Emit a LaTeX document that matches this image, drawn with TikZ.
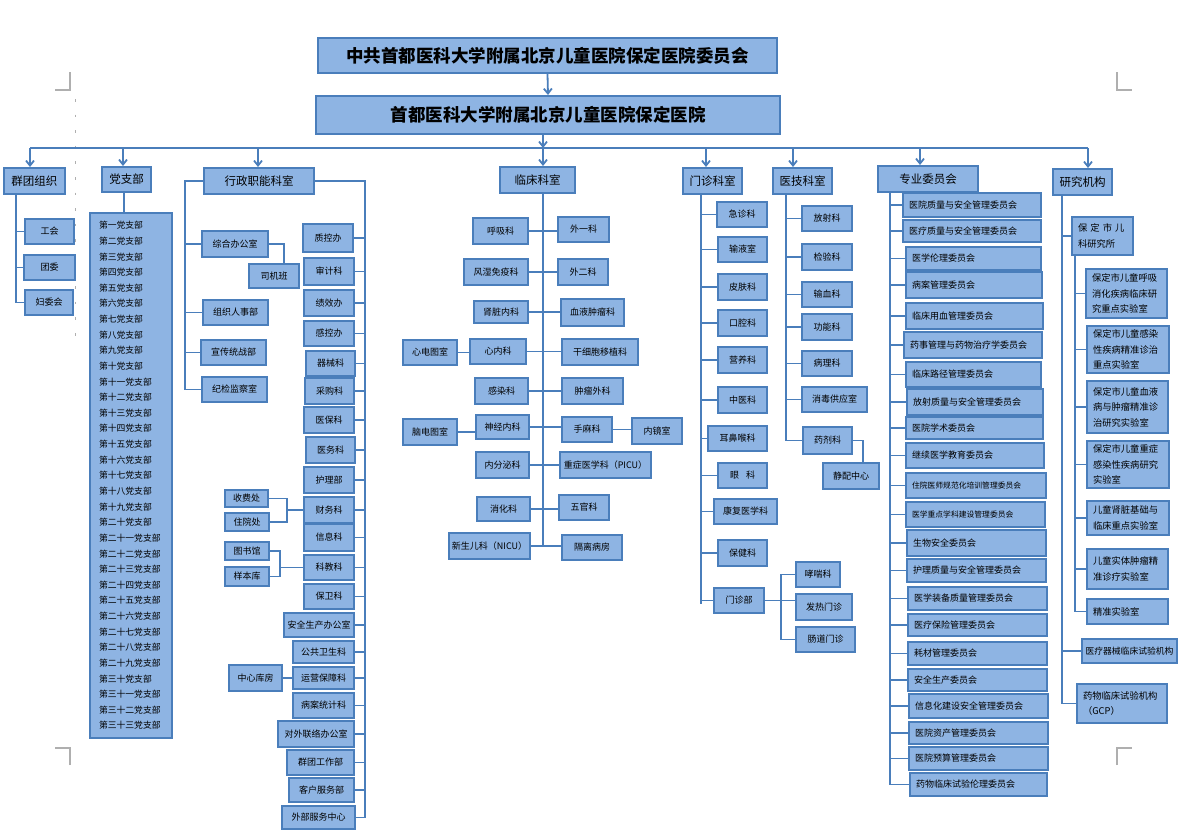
\documentclass[tikz,border=0pt]{standalone}
\usepackage{fontspec}
\setmainfont{Noto Sans CJK SC}
\usetikzlibrary{arrows.meta}
\definecolor{fl}{RGB}{142,180,227}
\definecolor{bd}{RGB}{74,126,187}
\definecolor{cm}{RGB}{175,175,175}
\newcommand\bx[7][]{\node[box,#1,minimum width={(#5-#3)*1pt},minimum height={(#6-#4)*1pt}] (#2) at ({(#3+#5)/2},{(#4+#6)/2}) {#7};}
\newcommand\lbx[7][]{\node[box,#1,align=left,inner xsep=6pt,text width={(#5-#3-12)*1pt},minimum height={(#6-#4)*1pt}] (#2) at ({(#3+#5)/2},{(#4+#6)/2}) {#7};}
\begin{document}
\begin{tikzpicture}[x=1pt,y=-1pt,
  box/.style={draw=bd, fill=fl, line width=2pt, inner sep=1pt, text=black, font=\fontsize{9}{10.5}\selectfont},
  hd/.style={font=\fontsize{11.5}{13}\selectfont},
  ttl/.style={font=\bfseries\fontsize{17.5}{20}\selectfont},
  sm/.style={font=\fontsize{7.8}{9}\selectfont},
  rs/.style={font=\fontsize{9.3}{15.5}\selectfont},
  ln/.style={draw=bd, line width=1.8pt},
  arr/.style={ln, -{Straight Barb[length=5pt,width=8pt]}},
  crop/.style={draw=cm, line width=1.2pt}]
\useasboundingbox (0,0) rectangle (1186,838);
\fill[white] (0,0) rectangle (1186,838);

% crop marks
\draw[crop] (70,72) -- (70,90) -- (55,90);
\draw[crop] (1117,72) -- (1117,90) -- (1132,90);
\draw[crop] (70,765) -- (70,748) -- (55,748);
\draw[crop] (1117,765) -- (1117,748) -- (1132,748);
\foreach \yy in {99,114.6,...,335} \draw[draw=cm, line width=1pt] (75,\yy) -- (75,\yy+2.5);

% titles
\bx[ttl]{t1}{318}{38}{777}{73}{中共首都医科大学附属北京儿童医院保定医院委员会}
\bx[ttl]{t2}{316}{96}{780}{134}{首都医科大学附属北京儿童医院保定医院}
\draw[arr] (t1.south) -- (t2.north);

% headers
\bx[hd]{qt}{4}{168}{65}{194}{群团组织}
\bx[hd]{dz}{102}{167}{151}{192}{党支部}
\bx[hd]{xz}{204}{168}{314}{194}{行政职能科室}
\bx[hd]{lc}{500}{167}{575}{193}{临床科室}
\bx[hd]{mz}{683}{168}{742}{194}{门诊科室}
\bx[hd]{yj}{773}{168}{832}{194}{医技科室}
\bx[hd]{zw}{878}{166}{978}{192}{专业委员会}
\bx[hd]{yjj}{1053}{169}{1112}{195}{研究机构}

% bus
\coordinate (busL) at (30,148);
\coordinate (busR) at (1088,148);
\coordinate (lcT) at (543,0);
\draw[ln] (busL) -- (busR);
\draw[arr] (t2.south -| lcT) -- (lcT |- busL);
\coordinate (d1) at (30,148);
\coordinate (d2) at (123,148);
\coordinate (d3) at (258,148);
\coordinate (d4) at (543,148);
\coordinate (d5) at (706,148);
\coordinate (d6) at (793,148);
\coordinate (d7) at (920,148);
\coordinate (d8) at (1088,148);
\draw[arr] (d1) -- (d1 |- qt.north);
\draw[arr] (d2) -- (d2 |- dz.north);
\draw[arr] (d3) -- (d3 |- xz.north);
\draw[arr] (d4) -- (d4 |- lc.north);
\draw[arr] (d5) -- (d5 |- mz.north);
\draw[arr] (d6) -- (d6 |- yj.north);
\draw[arr] (d7) -- (d7 |- zw.north);
\draw[arr] (d8) -- (d8 |- yjj.north);

% group organisations
\bx{gh}{25}{219}{74}{244}{工会}
\bx{tw}{24}{255}{75}{280}{团委}
\bx{fw}{25}{290}{73}{315}{妇委会}
\coordinate (qtT) at (16,0);
\draw[ln] (qt.south -| qtT) |- (fw.west);
\draw[ln] (qtT |- gh.west) -- (gh.west);
\draw[ln] (qtT |- tw.west) -- (tw.west);

% party branches
\node[box, text width=64pt, inner xsep=9pt, align=left, minimum height=525pt, font=\fontsize{8.8}{15.63}\selectfont] (dl) at (131,475.5)
{第一党支部\\第二党支部\\第三党支部\\第四党支部\\第五党支部\\第六党支部\\第七党支部\\第八党支部\\第九党支部\\第十党支部\\第十一党支部\\第十二党支部\\第十三党支部\\第十四党支部\\第十五党支部\\第十六党支部\\第十七党支部\\第十八党支部\\第十九党支部\\第二十党支部\\第二十一党支部\\第二十二党支部\\第二十三党支部\\第二十四党支部\\第二十五党支部\\第二十六党支部\\第二十七党支部\\第二十八党支部\\第二十九党支部\\第三十党支部\\第三十一党支部\\第三十二党支部\\第三十三党支部};
\coordinate (dzT) at (124,0);
\draw[ln] (dz.south -| dzT) -- (dl.north -| dzT);

% administration - left
\bx{zh}{202}{231}{268}{257}{综合办公室}
\bx{sj}{249}{264}{299}{288}{司机班}
\bx{zz}{203}{300}{268}{325}{组织人事部}
\bx{xc}{201}{340}{266}{365}{宣传统战部}
\bx{jj}{202}{377}{267}{402}{纪检监察室}
\coordinate (xzL) at (185,0);
\draw[ln] (xz.west) -| (xzL |- jj.west) -- (jj.west);
\foreach \n in {zh,zz,xc} \draw[ln] (xzL |- \n.west) -- (\n.west);
\coordinate (sjT) at (284,0);
\draw[ln] (zh.east) -| (sjT |- sj.north);

% administration - right
\bx{zk}{303}{224}{353}{252}{质控办}
\bx{sjk}{304}{258}{354}{285}{审计科}
\bx{jx}{304}{290}{354}{316}{绩效办}
\bx{gk}{304}{321}{354}{346}{感控办}
\bx{qx}{306}{351}{355}{376}{器械科}
\bx{cg}{305}{378}{354}{404}{采购科}
\bx{yb}{304}{407}{354}{433}{医保科}
\bx{yw}{306}{437}{355}{463}{医务科}
\bx{hl}{304}{467}{354}{493}{护理部}
\bx{cw}{304}{497}{354}{523}{财务科}
\bx{xx}{304}{524}{354}{551}{信息科}
\bx{kj}{304}{555}{354}{580}{科教科}
\bx{bw}{304}{584}{354}{609}{保卫科}
\bx{aq}{284}{613}{354}{637}{安全生产办公室}
\bx{gw}{293}{641}{354}{663}{公共卫生科}
\bx{yy}{293}{667}{354}{689}{运营保障科}
\bx{ba}{293}{693}{354}{718}{病案统计科}
\bx{dw}{278}{721}{354}{747}{对外联络办公室}
\bx{qg}{287}{750}{354}{775}{群团工作部}
\bx{kf}{289}{778}{354}{802}{客户服务部}
\bx{wb}{282}{806}{355}{829}{外部服务中心}
\coordinate (xzR) at (365,0);
\draw[ln] (xz.east) -| (xzR |- wb.east) -- (wb.east);
\foreach \n in {zk,sjk,jx,gk,qx,cg,yb,yw,hl,cw,xx,kj,bw,aq,gw,yy,ba,dw,qg,kf}
  \draw[ln] (xzR |- \n.east) -- (\n.east);
\bx{sf}{225}{490}{268}{507}{收费处}
\bx{zy}{225}{513}{269}{531}{住院处}
\coordinate (cwB) at (287,0);
\draw[ln] (sf.east) -| (cwB |- zy.east) -- (zy.east);
\draw[ln] (cwB |- cw.west) -- (cw.west);
\bx{ts}{225}{542}{269}{560}{图书馆}
\bx{bk}{225}{567}{269}{586}{样本库}
\coordinate (kjB) at (280,0);
\draw[ln] (ts.east) -| (kjB |- bk.east) -- (bk.east);
\draw[ln] (kjB |- kj.west) -- (kj.west);
\bx{zx}{229}{665}{282}{691}{中心库房}
\draw[ln] (zx.east) -- (zx.east -| yy.west);

% clinical
\bx{hx}{473}{218}{528}{244}{呼吸科}
\bx{wy}{558}{217}{609}{242}{外一科}
\bx{fs}{464}{259}{528}{285}{风湿免疫科}
\bx{we}{558}{259}{608}{285}{外二科}
\bx{sz}{474}{301}{528}{323}{肾脏内科}
\bx{xy}{561}{299}{624}{326}{血液肿瘤科}
\bx{xd}{403}{340}{457}{365}{心电图室}
\bx{xn}{470}{339}{526}{364}{心内科}
\bx{gx}{562}{339}{638}{365}{干细胞移植科}
\bx{gr}{475}{378}{528}{404}{感染科}
\bx{zwk}{562}{378}{623}{404}{肿瘤外科}
\bx{nd}{403}{419}{457}{445}{脑电图室}
\bx{sn}{476}{415}{529}{439}{神经内科}
\bx{smk}{562}{417}{612}{442}{手麻科}
\bx{nj}{632}{418}{682}{444}{内镜室}
\bx{nf}{476}{452}{529}{478}{内分泌科}
\bx{pi}{560}{452}{651}{478}{重症医学科（PICU）}
\bx{xh}{477}{497}{530}{521}{消化科}
\bx{wg}{559}{495}{609}{520}{五官科}
\bx{xs}{449}{533}{530}{559}{新生儿科（NICU）}
\bx{gl}{562}{535}{622}{560}{隔离病房}
\draw[ln] (lc.south -| lcT) -- (lcT |- xs.east);
\draw[ln] (hx.east) -- (hx.east -| wy.west);
\draw[ln] (fs.east) -- (fs.east -| we.west);
\draw[ln] (sz.east) -- (sz.east -| xy.west);
\draw[ln] (xn.east) -- (xn.east -| gx.west);
\draw[ln] (gr.east) -- (gr.east -| zwk.west);
\draw[ln] (sn.east) -- (sn.east -| smk.west);
\draw[ln] (nf.east) -- (nf.east -| pi.west);
\draw[ln] (xh.east) -- (xh.east -| wg.west);
\draw[ln] (xs.east) -- (xs.east -| gl.west);
\draw[ln] (xd.east) -- (xd.east -| xn.west);
\draw[ln] (nd.east) -- (nd.east -| sn.west);
\draw[ln] (smk.east) -- (smk.east -| nj.west);

% outpatient
\bx{jz}{717}{202}{767}{227}{急诊科}
\bx{sy}{718}{237}{767}{262}{输液室}
\bx{pf}{718}{274}{767}{300}{皮肤科}
\bx{kq}{718}{310}{767}{336}{口腔科}
\bx{yyk}{718}{347}{767}{373}{营养科}
\bx{zyk}{718}{387}{767}{413}{中医科}
\bx{eb}{708}{426}{767}{451}{耳鼻喉科}
\bx{yk}{718}{463}{767}{488}{眼\hspace{7pt}科}
\bx{kfk}{714}{499}{777}{524}{康复医学科}
\bx{bj}{718}{540}{767}{566}{保健科}
\bx{mzb}{714}{588}{764}{613}{门诊部}
\coordinate (mzT) at (701,0);
\draw[ln] (mz.south -| mzT) -- ([yshift=-3pt]mzT |- mzb.west);
\foreach \n in {jz,sy,pf,kq,yyk,zyk,eb,yk,kfk,bj,mzb} \draw[ln] (mzT |- \n.west) -- (\n.west);
\bx{xck}{796}{562}{840}{587}{哮喘科}
\bx{fr}{796}{594}{852}{620}{发热门诊}
\bx{cd}{796}{627}{855}{652}{肠道门诊}
\coordinate (mzbB) at (781,0);
\draw[ln] (xck.west) -| (mzbB |- cd.west) -- (cd.west);
\draw[ln] (mzb.east) -- (mzb.east -| fr.west);

% medical technology
\bx{fsk}{802}{206}{852}{231}{放射科}
\bx{jy}{802}{244}{852}{270}{检验科}
\bx{sx}{802}{282}{852}{307}{输血科}
\bx{gn}{802}{314}{852}{340}{功能科}
\bx{bl}{802}{351}{852}{376}{病理科}
\bx{xdg}{802}{387}{867}{412}{消毒供应室}
\bx{yjk}{803}{427}{852}{454}{药剂科}
\bx{jp}{823}{463}{879}{489}{静配中心}
\coordinate (yjT) at (786,0);
\draw[ln] (yj.south -| yjT) -- (yjT |- yjk.west);
\foreach \n in {fsk,jy,sx,gn,bl,xdg,yjk} \draw[ln] (yjT |- \n.west) -- (\n.west);
\coordinate (jpT) at (863,0);
\draw[ln] (yjk.east) -| (jpT |- jp.north);

% committees
\lbx{c1}{903}{193}{1041}{217}{医院质量与安全管理委员会}
\lbx{c2}{903}{220}{1041}{242}{医疗质量与安全管理委员会}
\lbx{c3}{906}{247}{1041}{270}{医学伦理委员会}
\lbx{c4}{906}{272}{1042}{298}{病案管理委员会}
\lbx{c5}{906}{303}{1043}{329}{临床用血管理委员会}
\lbx{c6}{904}{332}{1042}{358}{药事管理与药物治疗学委员会}
\lbx{c7}{906}{362}{1041}{387}{临床路径管理委员会}
\lbx{c8}{907}{389}{1043}{415}{放射质量与安全管理委员会}
\lbx{c9}{906}{417}{1043}{439}{医院学术委员会}
\lbx{c10}{906}{443}{1044}{468}{继续医学教育委员会}
\lbx[sm]{c11}{906}{473}{1046}{498}{住院医师规范化培训管理委员会}
\lbx[sm]{c12}{906}{502}{1045}{527}{医学重点学科建设管理委员会}
\lbx{c13}{907}{530}{1046}{556}{生物安全委员会}
\lbx{c14}{907}{559}{1046}{582}{护理质量与安全管理委员会}
\lbx{c15}{908}{587}{1047}{610}{医学装备质量管理委员会}
\lbx{c16}{908}{614}{1047}{636}{医疗保险管理委员会}
\lbx{c17}{908}{642}{1047}{665}{耗材管理委员会}
\lbx{c18}{908}{669}{1047}{691}{安全生产委员会}
\lbx{c19}{909}{694}{1048}{718}{信息化建设安全管理委员会}
\lbx{c20}{909}{722}{1048}{744}{医院资产管理委员会}
\lbx{c21}{909}{747}{1048}{770}{医院预算管理委员会}
\lbx{c22}{910}{773}{1047}{796}{药物临床试验伦理委员会}
\coordinate (zwT) at (890,0);
\draw[ln] (zw.south -| zwT) -- (zwT |- c22.west);
\foreach \i in {1,...,22} \draw[ln] (zwT |- c\i.west) -- (c\i.west);

% research
\lbx[rs]{r0}{1072}{217}{1133}{255}{保 定 市 儿\\科研究所}
\lbx[rs]{r1}{1086}{269}{1167}{318}{保定市儿童呼吸\\消化疾病临床研\\究重点实验室}
\lbx[rs]{r2}{1087}{326}{1169}{373}{保定市儿童感染\\性疾病精准诊治\\重点实验室}
\lbx[rs]{r3}{1087}{381}{1168}{433}{保定市儿童血液\\病与肿瘤精准诊\\治研究实验室}
\lbx[rs]{r4}{1087}{441}{1169}{488}{保定市儿童重症\\感染性疾病研究\\实验室}
\lbx[rs]{r5}{1087}{501}{1169}{535}{儿童肾脏基础与\\临床重点实验室}
\lbx[rs]{r6}{1087}{549}{1168}{589}{儿童实体肿瘤精\\准诊疗实验室}
\lbx[rs]{r7}{1087}{599}{1168}{624}{精准实验室}
\bx[font=\fontsize{8.8}{10}\selectfont]{r8}{1082}{639}{1177}{663}{医疗器械临床试验机构}
\lbx[rs]{r9}{1077}{684}{1167}{723}{药物临床试验机构\\（GCP）}
\coordinate (yjjT) at (1062,0);
\draw[ln] (yjj.south -| yjjT) -- (yjjT |- r9.west);
\foreach \n in {r0,r8,r9} \draw[ln] (yjjT |- \n.west) -- (\n.west);
\coordinate (r0T) at (1075,0);
\draw[ln] (r0.south -| r0T) -- (r0T |- r7.west);
\foreach \n in {r1,r2,r3,r4,r5,r6,r7} \draw[ln] (r0T |- \n.west) -- (\n.west);
\end{tikzpicture}
\end{document}
